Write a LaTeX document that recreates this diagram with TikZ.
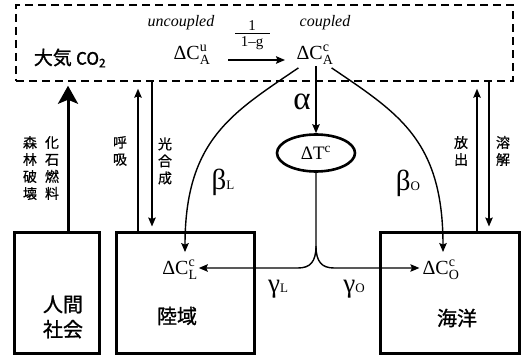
\documentclass[tikz,border=0pt]{standalone}
\usepackage{fontspec}
\usepackage{amsmath}
\setmainfont{Liberation Serif}
\newfontfamily\jp[FakeBold=0.6]{Noto Sans CJK JP}
\newfontfamily\jpb[FakeBold=1.2]{Noto Sans CJK JP}
\usetikzlibrary{arrows.meta,shapes.geometric}
\newcommand\dCx[3]{$\text{Δ#1}^{\text{#2}}_{\text{#3}}$}
\tikzset{
  thin line/.style={line width=1.4pt},
  arr/.style={thin line,-{Stealth[length=9pt,width=7.5pt,inset=1.5pt]}},
  thickarr/.style={line width=3pt,-{Stealth[length=18pt,width=20pt,inset=4pt]}},
  boxnode/.style={draw,line width=3pt,minimum height=121pt,inner sep=0pt},
  vlabel/.style={align=center,font=\jp\fontsize{14}{17}\selectfont,inner sep=0pt},
  blabel/.style={align=center,font=\jpb\fontsize{20}{25}\selectfont,inner sep=0pt},
  mathlbl/.style={font=\fontsize{20}{24}\selectfont,inner sep=1pt},
  greek/.style={font=\fontsize{27}{28}\selectfont,inner sep=0pt},
  fraclbl/.style={font=\fontsize{15}{16}\selectfont,inner sep=0pt},
}
\begin{document}
\begin{tikzpicture}[x=1pt,y=-1pt]
\useasboundingbox (0,0) rectangle (521,355);
% atmosphere dashed box
\node[draw,dashed,line width=1.5pt,dash pattern=on 8pt off 5pt,minimum width=497pt,minimum height=76pt,inner sep=0pt] (atm) at (264.5,43) {};
\node[font=\jpb\fontsize{19}{22}\selectfont,inner sep=0pt] (atmlbl) at (70,58) {大気 {\fontsize{17}{20}\selectfont CO\textsubscript{2}}};
\node[font=\itshape\fontsize{16}{18}\selectfont,inner sep=0pt] (unc) at (181,23) {uncoupled};
\node[font=\itshape\fontsize{16}{18}\selectfont,inner sep=0pt] (cpl) at (325,23) {coupled};
\node[mathlbl] (cu) at (192,55) {\dCx{C}{u}{A}};
\node[mathlbl] (cc) at (315,55) {\dCx{C}{c}{A}};
\coordinate (a1) at (228,60);
\coordinate (a2) at (285,60);
\draw[arr] (a1) -- (a2);
% factor 1/(1-g)
\node[fraclbl] (num) at (252,26) {1};
\node[fraclbl] (den) at (252,43) {1–g};
\draw[line width=1.2pt] (235,33.5) -- (270,33.5);
% temperature
\node[draw,ellipse,line width=2.6pt,minimum width=78pt,minimum height=37pt,inner sep=0pt,font=\fontsize{19}{20}\selectfont] (dT) at (316,153) {$\text{ΔT}^{\text{c}}$};
\draw[arr] (dT.north |- cc.south) -- (dT.north);
\node[font=\fontsize{33}{34}\selectfont,inner sep=0pt] (alpha) at (302,102) {α};
% boxes
\node[boxnode,minimum width=85pt] (human) at (56.5,292.5) {};
\node[boxnode,minimum width=138pt] (land) at (185,292.5) {};
\node[boxnode,minimum width=139pt] (ocean) at (449.5,292.5) {};
\node[blabel] (humanlbl) at (63,317) {人間\\社会};
\node[blabel] (landlbl) at (177,316) {陸域};
\node[blabel] (oceanlbl) at (457,318) {海洋};
\node[mathlbl] (cL) at (180,270) {\dCx{C}{c}{L}};
\node[mathlbl] (cO) at (441,270) {\dCx{C}{c}{O}};
% beta curves
\draw[arr] ([xshift=3pt,yshift=-2pt]cc.south west) .. controls (232,113) and (185,140) .. ([xshift=5pt,yshift=7pt]cL.north);
\draw[arr] ([xshift=-3pt,yshift=-2pt]cc.south east) .. controls (398,113) and (443,140) .. ([xshift=2pt,yshift=7pt]cO.north);
\node[greek,font=\fontsize{29}{30}\selectfont] (bL) at (223,182) {β{\fontsize{13}{13}\selectfont L}};
\node[greek,font=\fontsize{29}{30}\selectfont] (bO) at (408,183) {β{\fontsize{13}{13}\selectfont O}};
% gamma split
\coordinate (split) at (316,246);
\draw[arr] (dT.south) -- (split) .. controls (316,262) and (310,268) .. (298,268) -- (cL.east |- 0,268);
\draw[arr] (split) .. controls (316,262) and (322,268) .. (334,268) -- ([xshift=-2pt]cO.west |- 0,268);
\node[greek] (gL) at (278,289) {γ{\fontsize{13}{13}\selectfont L}};
\node[greek] (gO) at (354,289) {γ{\fontsize{13}{13}\selectfont O}};
% vertical fluxes
\coordinate (xh) at (68,0);
\coordinate (xr) at (138,0);
\coordinate (xp) at (152,0);
\coordinate (xe) at (477,0);
\coordinate (xd) at (489,0);
\draw[thickarr] (human.north -| xh) -- ([yshift=-4pt]atm.south -| xh);
\draw[arr] (land.north -| xr) -- ([yshift=-7pt]atm.south -| xr);
\draw[arr] (atm.south -| xp) -- ([yshift=4pt]land.north -| xp);
\draw[arr] (ocean.north -| xe) -- ([yshift=-7pt]atm.south -| xe);
\draw[arr] (atm.south -| xd) -- ([yshift=4pt]ocean.north -| xd);
\node[vlabel] (l1) at (30,168) {森\\林\\破\\壊};
\node[vlabel] (l2) at (52,168) {化\\石\\燃\\料};
\node[vlabel] (l3) at (120,151) {呼\\吸};
\node[vlabel] (l4) at (165,161) {光\\合\\成};
\node[vlabel] (l5) at (461,151) {放\\出};
\node[vlabel] (l6) at (503,151) {溶\\解};
\end{tikzpicture}
\end{document}
